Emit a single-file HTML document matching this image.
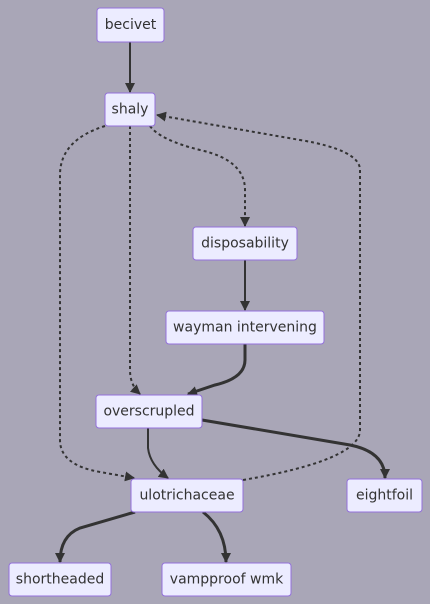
<!DOCTYPE html>
<html><head><meta charset="utf-8"><style>
html,body{margin:0;padding:0;background:#a9a6b7;}
svg{display:block;}
text{font-family:"DejaVu Sans","Liberation Sans",sans-serif;font-size:14px;fill:#333;text-anchor:middle;dominant-baseline:central;}
.n{fill:#ECECFF;stroke:#9370DB;stroke-width:1;}
.e{fill:none;stroke:#333;stroke-width:2;}
.t{fill:none;stroke:#333;stroke-width:3;}
.d{fill:none;stroke:#333;stroke-width:2;stroke-dasharray:3 3;}
</style></head><body>
<svg width="430" height="604" viewBox="0 0 430 604" xmlns="http://www.w3.org/2000/svg">
<defs>
<marker id="b" viewBox="0 0 10 10" refX="9" refY="5" markerWidth="10" markerHeight="10" orient="auto" markerUnits="userSpaceOnUse">
<path d="M0,0 L10,5 L0,10 z" fill="#333"/></marker>
</defs>
<path class="e" d="M130,42 L130,92" marker-end="url(#b)"/>
<path class="d" d="M150,126 Q160,140 200,150 Q245,160 245,190 L245,226" marker-end="url(#b)"/>
<path class="d" d="M130,126 L130,370 Q130,385 140,394" marker-end="url(#b)"/>
<path class="d" d="M105,126 Q60,140 60,175 L60,440 Q60,465 100,472 L134,478" marker-end="url(#b)"/>
<path class="d" d="M243,480 Q360,460 360,430 L360,170 Q360,150 300,140 L157,115" marker-end="url(#b)"/>
<path class="e" d="M245,260 L245,310" marker-end="url(#b)"/>
<path class="t" d="M245,344 L245,360 Q245,378 215,385 L188,394" marker-end="url(#b)"/>
<path class="e" d="M148,428 L148,448 Q150,465 168,478" marker-end="url(#b)"/>
<path class="t" d="M202,420 L350,445 Q385,452 385,478" marker-end="url(#b)"/>
<path class="t" d="M135,512 L80,528 Q60,536 60,562" marker-end="url(#b)"/>
<path class="t" d="M203,512 Q226,530 226,562" marker-end="url(#b)"/>
<rect class="n" x="97" y="8" width="67" height="34" rx="3"/><text x="130.5" y="25">becivet</text>
<rect class="n" x="105" y="93" width="50" height="33" rx="3"/><text x="130" y="109.5">shaly</text>
<rect class="n" x="193" y="227" width="104" height="33" rx="3"/><text x="245" y="243.5">disposability</text>
<rect class="n" x="166" y="311" width="158" height="33" rx="3"/><text x="245" y="327.5">wayman intervening</text>
<rect class="n" x="96" y="395" width="106" height="33" rx="3"/><text x="149" y="411.5">overscrupled</text>
<rect class="n" x="131" y="479" width="112" height="33" rx="3"/><text x="187" y="495.5">ulotrichaceae</text>
<rect class="n" x="347" y="479" width="75" height="33" rx="3"/><text x="384.5" y="495.5">eightfoil</text>
<rect class="n" x="9" y="563" width="102" height="33" rx="3"/><text x="60" y="579.5">shortheaded</text>
<rect class="n" x="162" y="563" width="129" height="33" rx="3"/><text x="226.5" y="579.5">vampproof wmk</text>
</svg>
</body></html>
